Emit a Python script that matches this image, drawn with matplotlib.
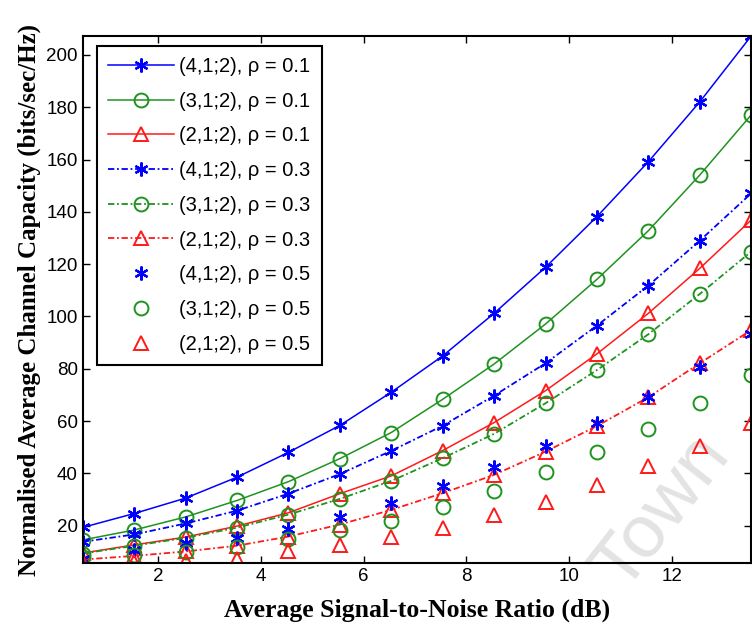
import matplotlib.pyplot as plt

# SNR in dB
snr = [0.54, 1.54, 2.54, 3.54, 4.54, 5.54, 6.54, 7.54, 8.54, 9.54, 10.54, 11.54, 12.54, 13.54]

# rho = 0.1
c4_01 = [19.3, 24.6, 30.5, 38.5, 48.0, 58.3, 71.0, 84.9, 101.2, 118.8, 138.2, 159.2, 182.1, 207.3]
c3_01 = [14.5, 18.3, 23.3, 29.6, 36.8, 45.6, 55.6, 68.3, 81.8, 97.1, 114.2, 132.8, 154.1, 177.1]
c2_01 = [9.5, 12.6, 15.6, 19.8, 24.9, 32.2, 39.0, 48.7, 59.4, 71.6, 85.7, 101.2, 118.4, 136.9]
# rho = 0.3
c4_03 = [13.8, 16.6, 20.8, 25.7, 32.2, 39.7, 48.6, 58.2, 69.7, 82.1, 96.5, 111.8, 129.0, 147.1]
c3_03 = [9.3, 12.3, 15.3, 19.2, 24.2, 30.2, 37.1, 45.8, 55.1, 66.8, 79.5, 93.2, 108.6, 124.8]
c2_03 = [7.0, 8.4, 10.1, 12.3, 15.8, 20.4, 26.0, 32.4, 39.4, 48.3, 58.1, 69.1, 82.1, 94.8]
# rho = 0.5
c4_05 = [7.3, 10.7, 13.3, 15.2, 18.8, 23.3, 28.8, 35.3, 42.3, 50.5, 59.2, 69.3, 80.8, 93.4]
c3_05 = [8.0, 8.8, 9.8, 11.7, 14.8, 18.3, 21.9, 27.0, 33.4, 40.4, 48.1, 56.9, 66.8, 77.6]
c2_05 = [5.8, 5.9, 6.3, 7.3, 10.4, 12.4, 15.8, 19.0, 24.1, 29.2, 35.6, 42.6, 50.5, 59.2]

labels = ['(4,1;2), ρ = 0.1', '(3,1;2), ρ = 0.1', '(2,1;2), ρ = 0.1',
          '(4,1;2), ρ = 0.3', '(3,1;2), ρ = 0.3', '(2,1;2), ρ = 0.3',
          '(4,1;2), ρ = 0.5', '(3,1;2), ρ = 0.5', '(2,1;2), ρ = 0.5']

blue = '#0000ff'
green = '#1f931f'
red = '#ff1a1a'
star = (6, 2, 0)
dashdot = (0, (3.5, 1.5, 1, 1.5))

plt.rcParams['font.family'] = ['Liberation Sans', 'DejaVu Sans']

fig = plt.figure(figsize=(7.52, 6.30), dpi=100)
fig.patch.set_facecolor('white')
ax = fig.add_axes([0.110, 0.106, 0.889, 0.837])
ax.set_facecolor('none')

ax.plot(snr, c4_01, color=blue, ls='-', lw=1.1, marker=star, ms=10, mew=1.6, label=labels[0])
ax.plot(snr, c3_01, color=green, ls='-', lw=1.1, marker='o', ms=10, mfc='none', mew=1.4, label=labels[1])
ax.plot(snr, c2_01, color=red, ls='-', lw=1.1, marker='^', ms=10, mfc='none', mew=1.4, label=labels[2])
ax.plot(snr, c4_03, color=blue, ls=dashdot, lw=1.3, marker=star, ms=10, mew=1.6, label=labels[3])
ax.plot(snr, c3_03, color=green, ls=dashdot, lw=1.3, marker='o', ms=10, mfc='none', mew=1.4, label=labels[4])
ax.plot(snr, c2_03, color=red, ls=dashdot, lw=1.3, marker='^', ms=10, mfc='none', mew=1.4, label=labels[5])
ax.plot(snr, c4_05, color=blue, ls='none', marker=star, ms=10, mew=1.6, label=labels[6])
ax.plot(snr, c3_05, color=green, ls='none', marker='o', ms=10, mfc='none', mew=1.4, label=labels[7])
ax.plot(snr, c2_05, color=red, ls='none', marker='^', ms=10, mfc='none', mew=1.4, label=labels[8])

ax.set_xlim(snr[0], snr[-1])
ax.set_ylim(5.6, c4_01[-1])
ax.set_xticks([2, 4, 6, 8, 10, 12])
ax.set_yticks([20, 40, 60, 80, 100, 120, 140, 160, 180, 200])
ax.tick_params(direction='in', top=True, right=True, length=5, width=1, labelsize=13.5)
for s in ax.spines.values():
    s.set_linewidth(1.5)

ax.set_xlabel('Average Signal-to-Noise Ratio (dB)', family='Liberation Serif',
              fontweight='bold', fontsize=18.5, labelpad=10)
ax.set_ylabel('Normalised Average Channel Capacity (bits/sec/Hz)', family='Liberation Serif',
              fontweight='bold', fontsize=18, labelpad=4)

leg = ax.legend(loc='upper left', bbox_to_anchor=(0.021, 0.981), borderaxespad=0,
                fontsize=14.5, handlelength=3.3, handletextpad=0.25, labelspacing=0.78,
                borderpad=0.55, fancybox=False, framealpha=1, edgecolor='black')
leg.get_frame().set_linewidth(1.5)

# faint watermark behind the axes
fig.text(662 / 752, 1 - 512 / 630, 'Town', rotation=52, fontsize=54, color='#e3e3e3',
         ha='center', va='center', zorder=-1)

fig.savefig('out.png', dpi=100)
